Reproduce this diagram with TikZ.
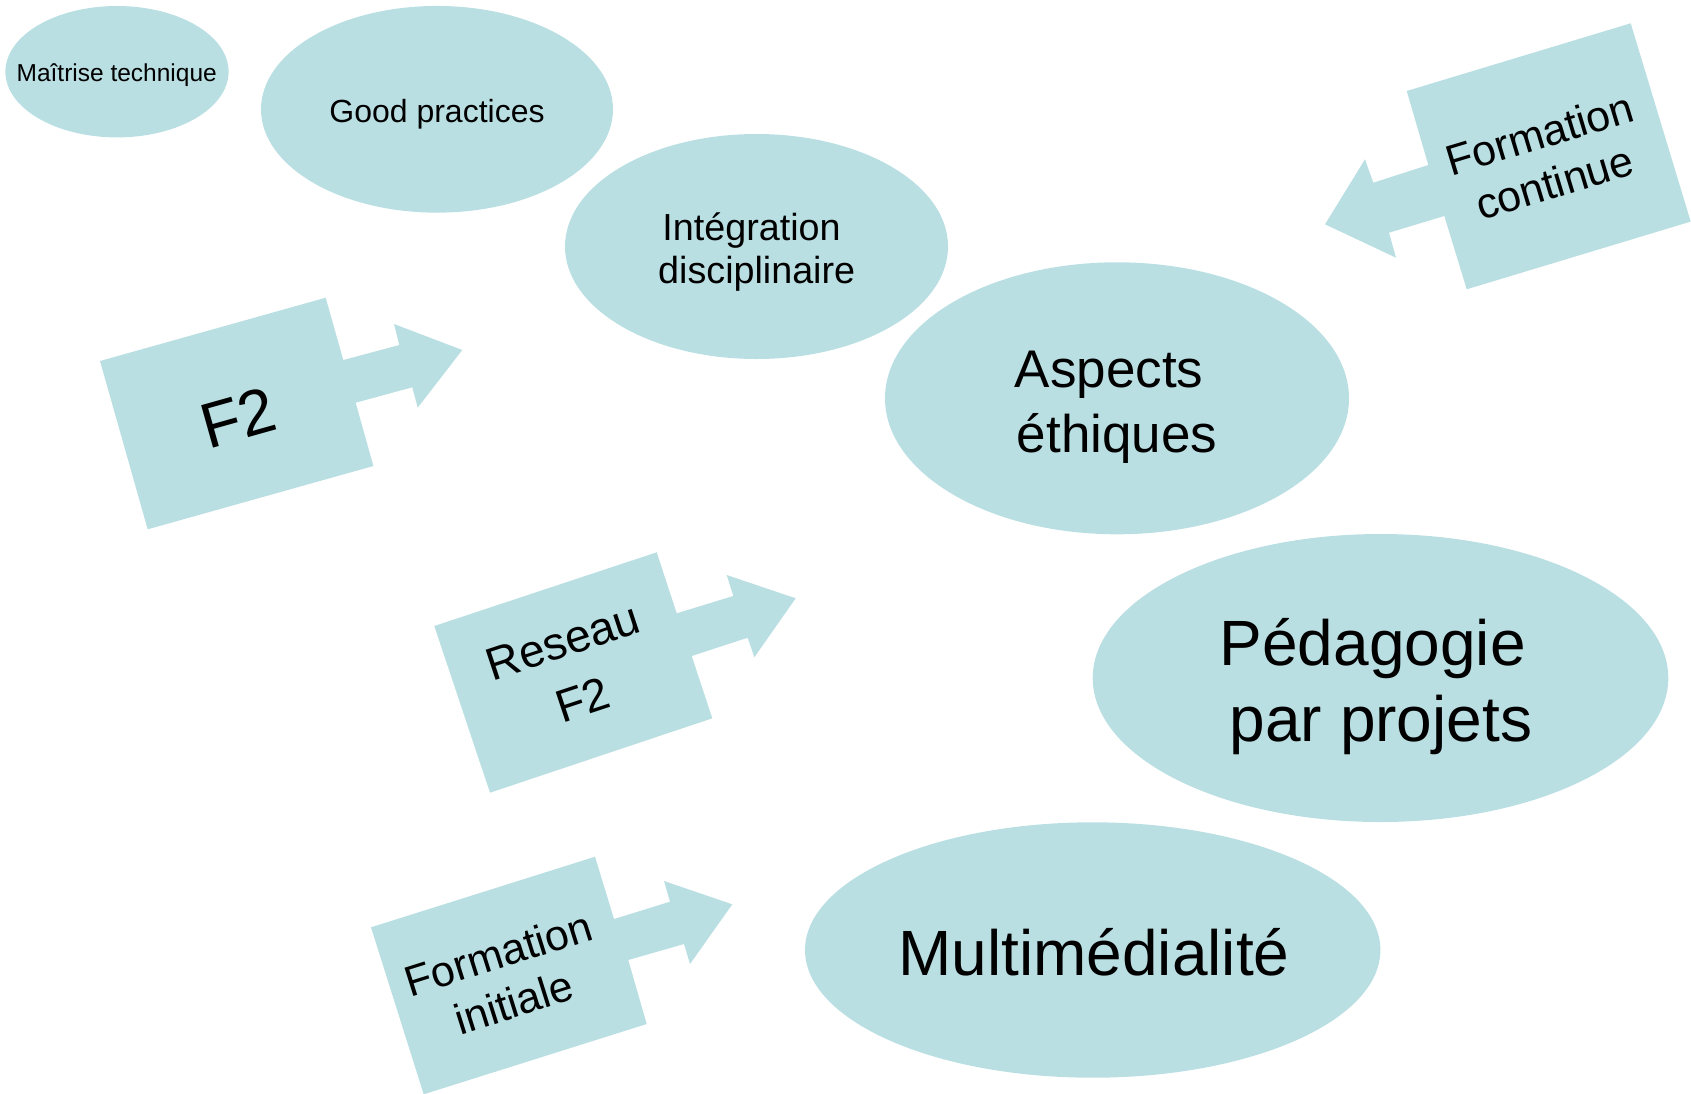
\documentclass[tikz,border=0pt]{standalone}
\usepackage{fontspec}
\setmainfont{Liberation Sans}
\usetikzlibrary{shapes.geometric}
\definecolor{shapefill}{HTML}{BADFE3}
\tikzset{
  ell/.style={ellipse, fill=shapefill, draw=none, inner sep=0pt, outer sep=0pt},
  arrowshape/.style={fill=shapefill, draw=none},
  lbl/.style={inner sep=0pt, anchor=base, text=black},
  mlbl/.style={inner sep=0pt, anchor=center, align=center, text=black},
  fa/.style={font=\fontsize{24.5}{29}\selectfont},
  fb/.style={font=\fontsize{32}{37}\selectfont},
  fc/.style={font=\fontsize{37.7}{43}\selectfont},
  fd/.style={font=\fontsize{53}{62}\selectfont},
  fe/.style={font=\fontsize{64}{75}\selectfont},
  ff/.style={font=\fontsize{46}{62}\selectfont},
  fg/.style={font=\fontsize{43}{51.5}\selectfont}
}
\begin{document}
\begin{tikzpicture}[x=1pt,y=-1pt]
\useasboundingbox (0,0) rectangle (1691,1093);

% ellipses
\node[ell, minimum width=223.2pt, minimum height=131.4pt] (maitrise) at (117,71.7) {};
\node[ell, minimum width=352pt, minimum height=206.7pt] (good) at (437,109.3) {};
\node[ell, minimum width=383pt, minimum height=225pt] (integ) at (756.5,246.5) {};
\node[ell, minimum width=464pt, minimum height=272pt] (ethique) at (1117,398.3) {};
\node[ell, minimum width=575.6pt, minimum height=288pt] (peda) at (1380.5,678) {};
\node[ell, minimum width=575.4pt, minimum height=255.4pt] (multi) at (1092.7,950) {};

% ellipse texts
\node[lbl, fa] (tmaitrise) at (116.7,81) {Maîtrise technique};
\node[lbl, fb] (tgood) at (437,122) {Good practices};
\node[lbl, fc] (tinteg1) at (751.5,240) {Intégration};
\node[lbl, fc] (tinteg2) at (756.7,283) {disciplinaire};
\node[lbl, fd] (tethique1) at (1109,387) {Aspects};
\node[lbl, fd] (tethique2) at (1117,452) {éthiques};
\node[lbl, fe] (tpeda1) at (1372.7,665) {Pédagogie};
\node[lbl, fe] (tpeda2) at (1381,741.7) {par projets};
\node[lbl, fe] (tmulti) at (1094,975.7) {Multimédialité};

% arrow callout F2
\path[arrowshape] (100,361) -- (325.7,297.7) -- (343.3,360) -- (399.3,345) -- (394,324)
  -- (462.3,350) -- (417.7,407.7) -- (412.3,387.3) -- (355.7,402.7) -- (373.4,466)
  -- (147.7,529.3) -- cycle;
\node[lbl, fe, rotate=15.7] (tf2) at (244,439) {F2};

% arrow callout Reseau F2
\path[arrowshape] (434.3,626) -- (656.7,552.3) -- (676.7,613.3) -- (733.3,596) -- (726.7,575)
  -- (795.7,598.3) -- (754.3,657.3) -- (747.7,637.7) -- (691.7,656) -- (712.3,718.3)
  -- (490,792.7) -- cycle;
\node[mlbl, ff, rotate=18.3] (treseau) at (572.8,670.9) {Reseau\\F2};

% arrow callout Formation initiale
\path[arrowshape] (371,927.3) -- (595,856.7) -- (614,919) -- (670,901.7) -- (664,881)
  -- (732.3,904.3) -- (690,964) -- (684,944) -- (628.3,960) -- (646.7,1024)
  -- (423.7,1094.3) -- cycle;
\node[mlbl, fg, rotate=17.5] (tinit) at (506,977.8) {Formation\\initiale};

% arrow callout Formation continue (pointing left)
\path[arrowshape] (1406.7,91) -- (1630.7,23.3) -- (1690.7,221.6) -- (1466.7,289.3)
  -- (1444.3,216) -- (1389,232.7) -- (1396,257.7) -- (1325,224.3) -- (1365,159.3)
  -- (1373.3,182.7) -- (1428.3,165) -- cycle;
\node[mlbl, fg, rotate=16.8] (tcont) at (1547,158.1) {Formation\\continue};
\end{tikzpicture}
\end{document}
